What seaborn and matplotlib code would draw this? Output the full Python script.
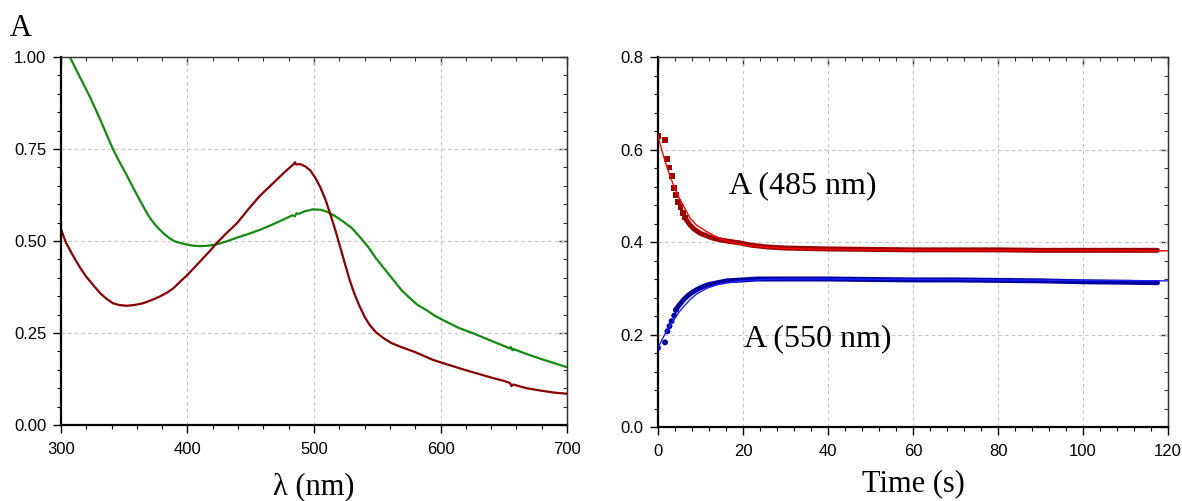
import seaborn as sns
import matplotlib.pyplot as plt
from matplotlib.ticker import MultipleLocator, FormatStrFormatter

# --- left panel: absorption spectra ---
green_wl = [300, 307, 315, 323, 331, 341, 347, 352, 357, 362, 366, 370, 374, 378,
            382, 386, 390, 395, 400, 405, 410, 416, 423, 431, 439, 448, 457, 466,
            475, 483, 485, 486, 488, 493, 499, 505, 510, 516, 523, 530, 536, 543,
            549, 556, 563, 569, 576, 582, 589, 595, 602, 615, 626, 640, 655, 655.5,
            657, 658, 668, 679, 690, 700]
green_abs = [1.04, 1.00, 0.945, 0.891, 0.83, 0.75, 0.71, 0.679, 0.645, 0.613,
             0.588, 0.564, 0.546, 0.531, 0.518, 0.507, 0.499, 0.494, 0.490, 0.487,
             0.486, 0.487, 0.491, 0.499, 0.509, 0.519, 0.530, 0.543, 0.557, 0.570,
             0.567, 0.575, 0.574, 0.581, 0.586, 0.585, 0.580, 0.569, 0.553, 0.535,
             0.512, 0.483, 0.453, 0.423, 0.393, 0.367, 0.344, 0.326, 0.312, 0.298,
             0.285, 0.263, 0.249, 0.229, 0.208, 0.212, 0.203, 0.206, 0.193, 0.180,
             0.168, 0.157]

red_wl = [300, 304, 310, 315, 320, 326, 331, 336, 341, 346, 352, 358, 365, 372,
          378, 384, 389, 394, 400, 406, 412, 418, 423, 431, 439, 448, 457, 464,
          471, 477, 482, 484, 485, 486, 489, 493, 497, 501, 505, 509, 513, 517,
          521, 525, 528, 532, 536, 540, 544, 549, 555, 561, 568, 580, 594, 605,
          617, 630, 641, 650, 655, 656, 657.5, 668, 680, 690, 700]
red_abs = [0.532, 0.495, 0.457, 0.428, 0.403, 0.378, 0.358, 0.343, 0.331, 0.326,
           0.324, 0.326, 0.331, 0.340, 0.349, 0.360, 0.372, 0.389, 0.408, 0.430,
           0.452, 0.474, 0.494, 0.522, 0.548, 0.586, 0.622, 0.645, 0.668, 0.688,
           0.703, 0.709, 0.714, 0.708, 0.709, 0.703, 0.692, 0.672, 0.646, 0.613,
           0.572, 0.528, 0.480, 0.432, 0.396, 0.356, 0.323, 0.294, 0.272, 0.252,
           0.236, 0.223, 0.213, 0.198, 0.177, 0.165, 0.152, 0.139, 0.128, 0.120,
           0.114, 0.106, 0.110, 0.100, 0.093, 0.088, 0.085]

# --- right panel: kinetics ---
t_early485 = [0, 1.65, 2.2, 2.7, 3.2, 3.8, 4.2, 4.8, 5.3, 5.8, 6.3]
a485_early = [0.629, 0.620, 0.579, 0.561, 0.543, 0.517, 0.502, 0.487, 0.476, 0.462, 0.453]
t_early550 = [0, 1.65, 2.2, 2.7, 3.2, 3.8, 4.2]
a550_early = [0.171, 0.183, 0.207, 0.218, 0.229, 0.241, 0.253]

t_band485 = [6.3, 7.5, 8.5, 9.9, 11.5, 13, 15, 17, 19.3, 22, 26, 30, 40, 50, 60,
             70, 80, 90, 100, 110, 117.5]
a485_band = [0.453, 0.437, 0.428, 0.419, 0.413, 0.408, 0.404, 0.401, 0.398, 0.393,
             0.389, 0.387, 0.385, 0.384, 0.383, 0.383, 0.383, 0.382, 0.382, 0.382, 0.382]
t_band550 = [4.2, 5, 6, 7, 8.2, 9.5, 11.5, 13.5, 16.2, 20, 23.2, 30, 40, 50, 60,
             70, 80, 90, 100, 110, 117.5]
a550_band = [0.253, 0.264, 0.275, 0.284, 0.292, 0.299, 0.307, 0.311, 0.316, 0.318,
             0.320, 0.320, 0.320, 0.319, 0.318, 0.318, 0.317, 0.316, 0.314, 0.313, 0.312]

t_fit = [0, 1, 2, 3, 4, 5, 6, 7.5, 9, 11.5, 14, 17, 20, 25, 30, 40, 60, 80, 100, 120]
a485_fit = [0.629, 0.595, 0.565, 0.538, 0.515, 0.495, 0.478, 0.452, 0.437, 0.422,
            0.410, 0.400, 0.394, 0.389, 0.386, 0.384, 0.383, 0.382, 0.382, 0.381]
a550_fit = [0.171, 0.190, 0.207, 0.222, 0.236, 0.249, 0.260, 0.275, 0.287, 0.300,
            0.308, 0.313, 0.316, 0.319, 0.320, 0.320, 0.319, 0.318, 0.317, 0.316]

sns.set_theme(style="ticks")
plt.rcParams["font.family"] = ["Liberation Sans", "DejaVu Sans"]
plt.rcParams["text.color"] = "black"
plt.rcParams["axes.labelcolor"] = "black"
SERIF = ["Liberation Serif", "DejaVu Serif"]


def style_axes(ax, xlim, ylim, xmaj, xmin, ymaj, ymin, yfmt):
    ax.set_xlim(*xlim)
    ax.set_ylim(*ylim)
    ax.xaxis.set_major_locator(MultipleLocator(xmaj))
    ax.xaxis.set_minor_locator(MultipleLocator(xmin))
    ax.yaxis.set_major_locator(MultipleLocator(ymaj))
    ax.yaxis.set_minor_locator(MultipleLocator(ymin))
    ax.yaxis.set_major_formatter(FormatStrFormatter(yfmt))
    ax.grid(True, which="major", color="#c4c4c4", ls=(0, (3, 3)), lw=0.8)
    ax.tick_params(which="both", direction="out", top=False, right=False,
                   colors="black", labelsize=12, pad=5)
    ax.tick_params(axis="x", which="both", pad=7)
    ax.tick_params(which="major", length=5.5, width=1)
    ax.tick_params(which="minor", length=3, width=0.8)
    for s in ["left", "bottom"]:
        ax.spines[s].set_linewidth(1.6)
        ax.spines[s].set_color("black")
    for s in ["top", "right"]:
        ax.spines[s].set_linewidth(0.9)
        ax.spines[s].set_color("#333333")
    # mirrored inward ticks on top and right
    secx = ax.secondary_xaxis("top")
    secx.xaxis.set_major_locator(MultipleLocator(xmaj))
    secx.xaxis.set_minor_locator(MultipleLocator(xmin))
    secx.tick_params(which="both", direction="in", labeltop=False, colors="#333333")
    secx.tick_params(which="major", length=5.5, width=1)
    secx.tick_params(which="minor", length=3, width=0.8)
    secx.spines["top"].set_linewidth(0.9)
    secx.spines["top"].set_color("#333333")
    secy = ax.secondary_yaxis("right")
    secy.yaxis.set_major_locator(MultipleLocator(ymaj))
    secy.yaxis.set_minor_locator(MultipleLocator(ymin))
    secy.tick_params(which="both", direction="in", labelright=False, colors="#333333")
    secy.tick_params(which="major", length=5.5, width=1)
    secy.tick_params(which="minor", length=3, width=0.8)
    secy.spines["right"].set_linewidth(0.9)
    secy.spines["right"].set_color("#333333")


fig = plt.figure(figsize=(11.82, 5.01), dpi=100)
ax1 = fig.add_axes([0.0516, 0.1517, 0.4281, 0.7345])
ax2 = fig.add_axes([0.5567, 0.1477, 0.4315, 0.7385])

# spectra
sns.lineplot(x=green_wl, y=green_abs, ax=ax1, color="#148a14", lw=1.6,
             sort=False, estimator=None)
sns.lineplot(x=red_wl, y=red_abs, ax=ax1, color="#850000", lw=1.6,
             sort=False, estimator=None)
style_axes(ax1, (300, 700), (0, 1), 100, 20, 0.25, 0.05, "%.2f")
ax1.set_xlabel("λ (nm)", fontsize=22, family=SERIF, labelpad=11)
ax1.set_ylabel("")

# kinetics
sns.lineplot(x=t_band485, y=a485_band, ax=ax2, color="#9a0000", lw=3.6,
             sort=False, estimator=None)
sns.lineplot(x=t_band550, y=a550_band, ax=ax2, color="#0000a0", lw=3.6,
             sort=False, estimator=None)
sns.scatterplot(x=t_early485, y=a485_early, ax=ax2, marker="s", s=18,
                color="#9a0000", edgecolor="none", zorder=3)
sns.scatterplot(x=t_early550, y=a550_early, ax=ax2, marker="o", s=18,
                color="#0000a0", edgecolor="none", zorder=3)
sns.lineplot(x=t_fit, y=a485_fit, ax=ax2, color="#ff0000", lw=1.0,
             sort=False, estimator=None, zorder=4)
sns.lineplot(x=t_fit, y=a550_fit, ax=ax2, color="#2020ff", lw=1.0,
             sort=False, estimator=None, zorder=4)
style_axes(ax2, (0, 120), (0, 0.8), 20, 4, 0.2, 0.04, "%.1f")
ax2.set_xlabel("Time (s)", fontsize=22, family=SERIF, labelpad=7)
ax2.set_ylabel("")
ax2.text(34.1, 0.506, "A (485 nm)", ha="center", va="baseline",
         fontsize=23, family=SERIF)
ax2.text(37.6, 0.174, "A (550 nm)", ha="center", va="baseline",
         fontsize=23, family=SERIF)

fig.text(10 / 1182, 1 - 36 / 501, "A", fontsize=22, family=SERIF, va="baseline")

fig.savefig("out.png", dpi=100)
